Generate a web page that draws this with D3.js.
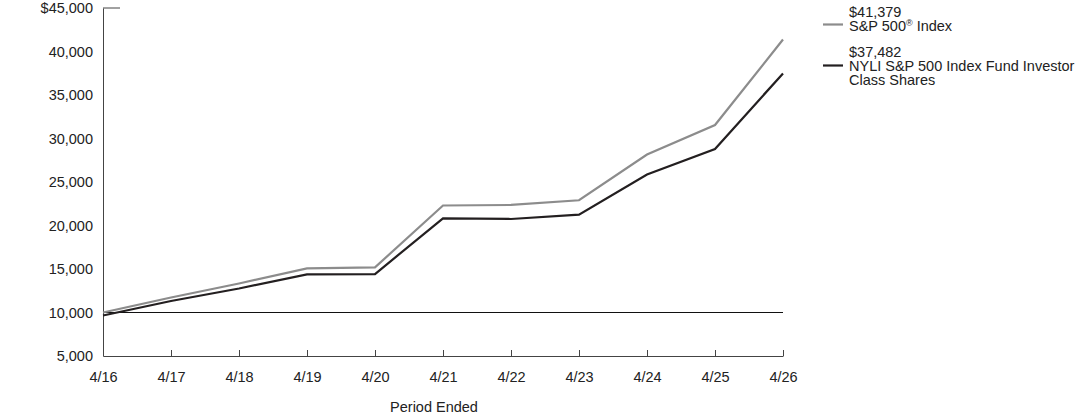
<!DOCTYPE html>
<html>
<head>
<meta charset="utf-8">
<script src="https://cdn.jsdelivr.net/npm/d3@7"></script>
<style>
  body { margin: 0; background: #fff; }
  svg { display: block; font-family: Arial, "Liberation Sans", sans-serif; }
</style>
</head>
<body>
<div id="chart"></div>
<script>
const periods = ['4/16', '4/17', '4/18', '4/19', '4/20', '4/21', '4/22', '4/23', '4/24', '4/25', '4/26'];
const spIndex = [10000, 11730, 13330, 15080, 15190, 22300, 22360, 22900, 28160, 31550, 41379];
const fundShares = [9650, 11320, 12760, 14390, 14420, 20830, 20750, 21240, 25860, 28790, 37482];
const yTicks = [5000, 10000, 15000, 20000, 25000, 30000, 35000, 40000, 45000];

const width = 1092, height = 417;
const x0 = 103, x1 = 783, yTop = 8, yBottom = 356;
const fontSize = '14.5px';

const svg = d3.select('#chart').append('svg')
  .attr('width', width)
  .attr('height', height);

const x = d3.scalePoint()
  .domain(periods)
  .range([x0, x1]);

const y = d3.scaleLinear()
  .domain([5000, 45000])
  .range([yBottom, yTop]);

// Y axis
const yAxis = svg.append('g')
  .attr('transform', `translate(${x0},0)`)
  .call(d3.axisLeft(y).tickValues(yTicks).tickSize(0).tickPadding(10)
    .tickFormat(d => (d === 45000 ? '$' : '') + d3.format(',')(d)));
yAxis.select('.domain').attr('stroke', '#444').attr('stroke-width', 1);
yAxis.selectAll('text').style('font-size', fontSize).style('fill', '#222');

// top tick
svg.append('line')
  .attr('x1', x0).attr('x2', x0 + 17)
  .attr('y1', y(45000)).attr('y2', y(45000))
  .attr('stroke', '#444');

// X axis
const xAxis = svg.append('g')
  .attr('transform', `translate(0,${yBottom})`)
  .call(d3.axisBottom(x).tickSizeInner(-6).tickSizeOuter(0).tickPadding(16));
xAxis.select('.domain').attr('stroke', '#444');
xAxis.selectAll('.tick line').attr('stroke', '#444');
xAxis.selectAll('text').style('font-size', fontSize).style('fill', '#222');

// 10,000 baseline
svg.append('line')
  .attr('x1', x0).attr('x2', x1)
  .attr('y1', y(10000)).attr('y2', y(10000))
  .attr('stroke', '#111').attr('stroke-width', 1.2);

// X label
svg.append('text')
  .attr('x', 434)
  .attr('y', 412)
  .style('text-anchor', 'middle')
  .style('font-size', fontSize)
  .style('fill', '#222')
  .text('Period Ended');

const line = d3.line()
  .x((d, i) => x(periods[i]))
  .y(d => y(d));

svg.append('path')
  .datum(spIndex)
  .attr('fill', 'none')
  .attr('stroke', '#8c8c8c')
  .attr('stroke-width', 2.2)
  .attr('d', line);

svg.append('path')
  .datum(fundShares)
  .attr('fill', 'none')
  .attr('stroke', '#231f20')
  .attr('stroke-width', 2.2)
  .attr('d', line);

// Legend
const legend = svg.append('g').style('font-size', fontSize).style('fill', '#222');

legend.append('line')
  .attr('x1', 823).attr('x2', 843).attr('y1', 24.5).attr('y2', 24.5)
  .attr('stroke', '#8c8c8c').attr('stroke-width', 2.2);
legend.append('text').attr('x', 849).attr('y', 17).text('$' + d3.format(',')(spIndex[spIndex.length - 1]));
const spLabel = legend.append('text').attr('x', 849).attr('y', 31);
spLabel.append('tspan').text('S&P 500');
spLabel.append('tspan').attr('dy', -5).style('font-size', '9px').text('®');
spLabel.append('tspan').attr('dy', 5).text(' Index');

legend.append('line')
  .attr('x1', 823).attr('x2', 843).attr('y1', 65.5).attr('y2', 65.5)
  .attr('stroke', '#231f20').attr('stroke-width', 2.2);
legend.append('text').attr('x', 849).attr('y', 57).text('$' + d3.format(',')(fundShares[fundShares.length - 1]));
legend.append('text').attr('x', 849).attr('y', 71).text('NYLI S&P 500 Index Fund Investor');
legend.append('text').attr('x', 849).attr('y', 85).text('Class Shares');
</script>
</body>
</html>
